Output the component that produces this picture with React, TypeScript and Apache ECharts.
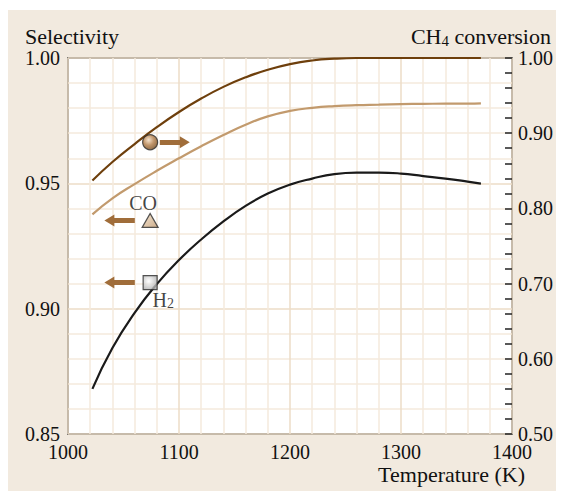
import React, { useEffect, useRef } from "react";
import * as echarts from "echarts";

const temperatures = [1022, 1040, 1060, 1080, 1100, 1120, 1140, 1160, 1180, 1200, 1220, 1240, 1260, 1280, 1300, 1320, 1340, 1360, 1372];
const ch4Conversion = [0.8371, 0.8617, 0.8856, 0.908, 0.9282, 0.9461, 0.9616, 0.9743, 0.9844, 0.9919, 0.9967, 0.9991, 1.0, 1.0, 1.0, 1.0, 1.0, 1.0, 1.0];
const coSelectivity = [0.9376, 0.944, 0.9497, 0.955, 0.96, 0.9648, 0.9693, 0.9734, 0.9767, 0.9789, 0.9801, 0.9808, 0.9812, 0.9814, 0.9816, 0.9817, 0.9818, 0.9818, 0.9819];
const h2Selectivity = [0.868, 0.8843, 0.8983, 0.9098, 0.9194, 0.9276, 0.9348, 0.941, 0.9459, 0.9495, 0.9519, 0.9537, 0.9543, 0.9543, 0.9539, 0.9529, 0.9519, 0.9507, 0.9499];

const xTicks = [1000, 1100, 1200, 1300, 1400];
const leftTicks = [0.85, 0.9, 0.95, 1.0];
const rightTicks = [0.5, 0.6, 0.7, 0.8, 0.9, 1.0];

// marker keys: [temperature, value]
const ch4Marker = [1074, 0.888];
const coMarker = [1074, 0.9352];
const h2Marker = [1074, 0.9104];
const ch4Arrow = [[1082.7, 0.888], [1105.2, 0.888]];
const coArrow = [[1060.2, 0.9352], [1037.3, 0.9352]];
const h2Arrow = [[1060.2, 0.9104], [1037.3, 0.9104]];

const FONT = "'Liberation Serif', 'Times New Roman', serif";
const TXT = "#111";
const ARROW = "#a06d3a";

export default function App() {
  const ref = useRef<HTMLDivElement>(null);
  useEffect(() => {
    if (!ref.current) return;
    const chart = echarts.init(ref.current, undefined, { renderer: "svg" });
    const pair = (xs: number[], ys: number[]) => xs.map((x, i) => [x, ys[i]]);
    const arrowSeries = (pts: number[][], yAxisIndex: number) => ({
      type: "line",
      yAxisIndex,
      data: [],
      silent: true,
      markLine: {
        silent: true,
        animation: false,
        symbol: ["none", "triangle"],
        symbolSize: [12, 10],
        label: { show: false },
        lineStyle: { color: ARROW, width: 5, type: "solid", opacity: 1 },
        itemStyle: { color: ARROW },
        data: [[{ coord: pts[0] }, { coord: pts[1] }]],
      },
    });
    chart.setOption({
      animation: false,
      backgroundColor: "#f2eadf",
      textStyle: { fontFamily: FONT },
      grid: {
        left: 60,
        right: 43,
        top: 48,
        bottom: 57,
        show: true,
        backgroundColor: "#ffffff",
        borderColor: "#222",
        borderWidth: 1.5,
      },
      xAxis: {
        type: "value",
        min: xTicks[0],
        max: xTicks[xTicks.length - 1],
        interval: 100,
        axisLine: { show: false },
        axisTick: { show: false },
        axisLabel: { color: TXT, fontSize: 20, fontFamily: FONT, margin: 8, formatter: (v: number) => String(v) },
        splitLine: { show: true, lineStyle: { color: "#ecdcc7", width: 1.5 } },
        minorTick: { show: false, splitNumber: 5 },
        minorSplitLine: { show: true, lineStyle: { color: "#f5eadc", width: 1.5 } },
      },
      yAxis: [
        {
          type: "value",
          min: leftTicks[0],
          max: leftTicks[leftTicks.length - 1],
          interval: 0.05,
          axisLine: { show: false },
          axisTick: { show: false },
          axisLabel: { color: TXT, fontSize: 20, fontFamily: FONT, margin: 8, formatter: (v: number) => v.toFixed(2) },
          splitLine: { show: true, lineStyle: { color: "#ecdcc7", width: 1.5 } },
          minorTick: { show: false, splitNumber: 5 },
          minorSplitLine: { show: true, lineStyle: { color: "#f5eadc", width: 1.5 } },
        },
        {
          type: "value",
          position: "right",
          min: rightTicks[0],
          max: rightTicks[rightTicks.length - 1],
          interval: 0.1,
          axisLine: { show: false },
          axisTick: { show: true, inside: true, length: 7, lineStyle: { color: "#222", width: 1.5 } },
          minorTick: { show: true, splitNumber: 5, length: 7, lineStyle: { color: "#222", width: 1.5 } },
          axisLabel: { color: TXT, fontSize: 20, fontFamily: FONT, margin: 6, formatter: (v: number) => v.toFixed(2) },
          splitLine: { show: false },
        },
      ],
      graphic: [
        { type: "text", left: 17, top: 15, style: { text: "Selectivity", fontSize: 22, fontFamily: FONT, fill: TXT } },
        {
          type: "text",
          right: 5,
          top: 15,
          style: {
            text: "{a|CH}{s|4}{a| conversion}",
            fill: TXT,
            rich: {
              a: { fontSize: 22, fontFamily: FONT, fill: TXT, lineHeight: 24 },
              s: { fontSize: 15, fontFamily: FONT, fill: TXT, lineHeight: 24, verticalAlign: "bottom", padding: [6, 0, 0, 0] },
            },
          },
        },
        { type: "text", right: 31, top: 453, style: { text: "Temperature (K)", fontSize: 22, fontFamily: FONT, fill: TXT } },
      ],
      series: [
        {
          name: "H2",
          type: "line",
          yAxisIndex: 0,
          smooth: 0.5,
          showSymbol: false,
          clip: false,
          lineStyle: { color: "#1a1a1a", width: 2.2 },
          data: pair(temperatures, h2Selectivity),
        },
        {
          name: "CO",
          type: "line",
          yAxisIndex: 0,
          smooth: 0.5,
          showSymbol: false,
          clip: false,
          lineStyle: { color: "#c29a6d", width: 2.2 },
          data: pair(temperatures, coSelectivity),
        },
        {
          name: "CH4",
          type: "line",
          yAxisIndex: 1,
          smooth: 0.5,
          showSymbol: false,
          clip: false,
          lineStyle: { color: "#6e3f0c", width: 2.2 },
          data: pair(temperatures, ch4Conversion),
        },
        arrowSeries(ch4Arrow, 1),
        arrowSeries(coArrow, 0),
        arrowSeries(h2Arrow, 0),
        {
          type: "scatter",
          yAxisIndex: 1,
          symbol: "circle",
          symbolSize: 15,
          z: 5,
          itemStyle: {
            color: new echarts.graphic.RadialGradient(0.4, 0.35, 0.7, [
              { offset: 0, color: "#f3dcc0" },
              { offset: 0.5, color: "#b07a45" },
              { offset: 1, color: "#6e4418" },
            ]),
            borderColor: "#2a2a2a",
            borderWidth: 1.2,
          },
          data: [ch4Marker],
        },
        {
          type: "scatter",
          yAxisIndex: 0,
          symbol: "triangle",
          symbolSize: [16, 14],
          z: 5,
          itemStyle: {
            color: new echarts.graphic.LinearGradient(0, 0, 1, 1, [
              { offset: 0, color: "#f3e2cc" },
              { offset: 1, color: "#c0976b" },
            ]),
            borderColor: "#2a2a2a",
            borderWidth: 1.2,
          },
          label: {
            show: true,
            position: "top",
            distance: 0,
            offset: [-7, 0],
            formatter: "CO",
            color: TXT,
            fontSize: 20,
            fontFamily: FONT,
          },
          data: [coMarker],
        },
        {
          type: "scatter",
          yAxisIndex: 0,
          symbol: "rect",
          symbolSize: 14,
          z: 5,
          itemStyle: {
            color: new echarts.graphic.RadialGradient(0.4, 0.4, 0.8, [
              { offset: 0, color: "#ffffff" },
              { offset: 1, color: "#9a9a9a" },
            ]),
            borderColor: "#2a2a2a",
            borderWidth: 1.2,
          },
          label: {
            show: true,
            position: [10, 14],
            formatter: "{a|H}{s|2}",
            rich: {
              a: { fontSize: 20, fontFamily: FONT, color: TXT, lineHeight: 22 },
              s: { fontSize: 14, fontFamily: FONT, color: TXT, lineHeight: 22, verticalAlign: "bottom", padding: [6, 0, 0, 0] },
            },
          },
          data: [h2Marker],
        },
      ],
    });
    return () => chart.dispose();
  }, []);
  return <div ref={ref} style={{ width: 548, height: 481, marginTop: 2 }} />;
}
